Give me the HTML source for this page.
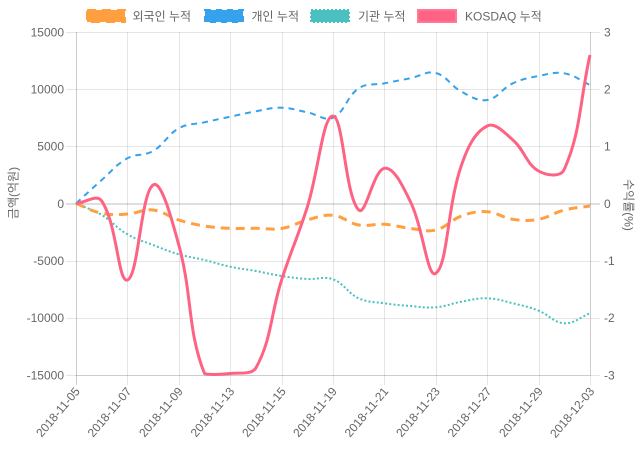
<!DOCTYPE html>
<html>
<head>
<meta charset="utf-8">
<style>
  html,body{margin:0;padding:0;background:#fff;}
  svg{display:block;}
  text{font-family:"Liberation Sans","Noto Sans CJK KR",sans-serif;font-size:12px;fill:#666;}
</style>
</head>
<body>
<svg id="c" width="640" height="450" viewBox="0 0 640 450" xmlns="http://www.w3.org/2000/svg">
  <defs>
    <clipPath id="clip"><rect x="74" y="30" width="518" height="347"/></clipPath>
  </defs>

  <!-- Legend -->
  <rect x="87" y="10" width="38" height="12" fill="rgb(255,159,64)" stroke="rgb(255,159,64)" stroke-width="2" stroke-dasharray="9,6"/>
  <text x="132.5" y="20.5">외국인 누적</text>
  <rect x="205" y="10" width="38" height="12" fill="rgb(54,162,235)" stroke="rgb(54,162,235)" stroke-width="2" stroke-dasharray="6,5"/>
  <text x="251.5" y="20.5">개인 누적</text>
  <rect x="311" y="10" width="38" height="12" fill="rgb(75,192,192)" stroke="rgb(75,192,192)" stroke-width="2" stroke-dasharray="2,2"/>
  <text x="358" y="20.5">기관 누적</text>
  <rect x="418" y="10" width="38" height="12" fill="rgb(255,99,132)" stroke="rgb(255,120,150)" stroke-width="2"/>
  <text x="465" y="20.5">KOSDAQ 누적</text>

  <!-- Horizontal gridlines -->
  <g stroke="rgba(0,0,0,0.1)" stroke-width="1">
    <line x1="66" y1="32.5" x2="590" y2="32.5"/>
    <line x1="66" y1="89.5" x2="590" y2="89.5"/>
    <line x1="66" y1="146.5" x2="590" y2="146.5"/>
    <line x1="66" y1="261.5" x2="590" y2="261.5"/>
    <line x1="66" y1="318.5" x2="590" y2="318.5"/>
    <line x1="66" y1="375.5" x2="590" y2="375.5"/>
  </g>
  <line x1="66" y1="204" x2="590" y2="204" stroke="rgba(0,0,0,0.25)" stroke-width="1"/>

  <!-- Vertical gridlines (incl. tick marks below) -->
  <g stroke="rgba(0,0,0,0.1)" stroke-width="1">
    <line x1="127.5" y1="32" x2="127.5" y2="385"/>
    <line x1="179.5" y1="32" x2="179.5" y2="385"/>
    <line x1="230.5" y1="32" x2="230.5" y2="385"/>
    <line x1="282.5" y1="32" x2="282.5" y2="385"/>
    <line x1="333.5" y1="32" x2="333.5" y2="385"/>
    <line x1="384.5" y1="32" x2="384.5" y2="385"/>
    <line x1="436.5" y1="32" x2="436.5" y2="385"/>
    <line x1="487.5" y1="32" x2="487.5" y2="385"/>
    <line x1="539.5" y1="32" x2="539.5" y2="385"/>
    <line x1="590.5" y1="32" x2="590.5" y2="385"/>
  </g>
  <line x1="76.5" y1="32" x2="76.5" y2="385" stroke="rgba(0,0,0,0.2)" stroke-width="1"/>
  <!-- axis borders -->
  <line x1="76" y1="375.5" x2="591" y2="375.5" stroke="rgba(0,0,0,0.1)" stroke-width="1"/>
  <line x1="590.5" y1="32" x2="590.5" y2="375" stroke="rgba(0,0,0,0.1)" stroke-width="1"/>

  <!-- Right axis tick marks -->
  <g stroke="rgba(0,0,0,0.1)" stroke-width="1">
    <line x1="590" y1="32.5" x2="600" y2="32.5"/>
    <line x1="590" y1="89.5" x2="600" y2="89.5"/>
    <line x1="590" y1="146.5" x2="600" y2="146.5"/>
    <line x1="590" y1="261.5" x2="600" y2="261.5"/>
    <line x1="590" y1="318.5" x2="600" y2="318.5"/>
    <line x1="590" y1="375.5" x2="600" y2="375.5"/>
  </g>
  <line x1="590" y1="204" x2="600" y2="204" stroke="rgba(0,0,0,0.25)" stroke-width="1"/>

  <!-- Left tick labels -->
  <g text-anchor="end">
    <text x="64" y="36.3">15000</text>
    <text x="64" y="93.5">10000</text>
    <text x="64" y="150.6">5000</text>
    <text x="64" y="207.8">0</text>
    <text x="64" y="265">-5000</text>
    <text x="64" y="322.1">-10000</text>
    <text x="64" y="379.3">-15000</text>
  </g>
  <!-- Right tick labels -->
  <g text-anchor="start">
    <text x="604" y="36.3">3</text>
    <text x="604" y="93.5">2</text>
    <text x="604" y="150.6">1</text>
    <text x="604" y="207.8">0</text>
    <text x="604" y="265">-1</text>
    <text x="604" y="322.1">-2</text>
    <text x="604" y="379.3">-3</text>
  </g>

  <!-- Axis titles -->
  <text transform="translate(17.3,193) rotate(-90)" text-anchor="middle">금액(억원)</text>
  <text transform="translate(624.4,205) rotate(90)" text-anchor="middle">수익률(%)</text>

  <!-- X tick labels -->
  <g text-anchor="end">
    <text transform="translate(77.5,389) rotate(-50)" y="4">2018-11-05</text>
    <text transform="translate(129,389) rotate(-50)" y="4">2018-11-07</text>
    <text transform="translate(180.5,389) rotate(-50)" y="4">2018-11-09</text>
    <text transform="translate(232,389) rotate(-50)" y="4">2018-11-13</text>
    <text transform="translate(283.5,389) rotate(-50)" y="4">2018-11-15</text>
    <text transform="translate(334.5,389) rotate(-50)" y="4">2018-11-19</text>
    <text transform="translate(386,389) rotate(-50)" y="4">2018-11-21</text>
    <text transform="translate(437.5,389) rotate(-50)" y="4">2018-11-23</text>
    <text transform="translate(489,389) rotate(-50)" y="4">2018-11-27</text>
    <text transform="translate(540.5,389) rotate(-50)" y="4">2018-11-29</text>
    <text transform="translate(592,389) rotate(-50)" y="4">2018-12-03</text>
  </g>

  <!-- Series -->
  <g clip-path="url(#clip)" fill="none">
    <path id="teal" stroke="rgb(75,192,192)" stroke-width="2" stroke-dasharray="2,2.2"
      d="M76,203.5 L101.7,215 L127.4,234.3 L153.1,245 L178.8,254.3 L204.5,260 L230.2,266.7 L255.9,271 L281.6,276 L307.3,279 L333,279.3 L358.7,298.3 L384.4,303.3 L410.1,306 L435.8,307.3 L461.5,301.7 L487.2,298.3 L512.9,303.3 L538.6,310.7 L564.3,323.3 L590,313.3"/>
    <path id="blue" stroke="rgb(54,162,235)" stroke-width="2" stroke-dasharray="6,5"
      d="M76,203.5 L101.7,180 L127.4,158.3 L153.1,151 L178.8,128.3 L204.5,122.3 L230.2,116.7 L255.9,111.3 L281.6,107.7 L307.3,112.3 L333,117.7 L358.7,88.3 L384.4,83.3 L410.1,78.3 L435.8,73 L461.5,91.7 L487.2,100 L512.9,83.3 L538.6,76 L564.3,73.3 L590,85"/>
    <path id="orange" stroke="rgb(255,159,64)" stroke-width="3" stroke-dasharray="9,6"
      d="M76,203.5 L101.7,213.3 L127.4,214 L153.1,210 L178.8,220 L204.5,226 L230.2,228.3 L255.9,228.3 L281.6,228.5 L307.3,220 L333,215.3 L358.7,225 L384.4,224.3 L410.1,228.3 L435.8,230 L461.5,216 L487.2,211.7 L512.9,219.3 L538.6,219.3 L564.3,210 L590,206"/>
    <path id="red" stroke="rgb(255,99,132)" stroke-width="3"
      d="M76,203.5 L101.7,201 L127.4,280 L153.1,185 L178.8,245 L204.5,373.5 L230.2,373.5 L255.9,368 L281.6,280 L307.3,207 L333,116 L358.7,210 L384.4,168.3 L410.1,201 L435.8,273.3 L461.5,165 L487.2,126 L512.9,140 L538.6,171 L564.3,169.3 L590,55"/>
  </g>
</svg>
<script>
(function(){
  var X=[];for(var i=0;i<21;i++)X.push(76+i*25.7);
  var data={
    teal:[203.5,215,234.3,245,254.3,260,266.7,271,276,279,279.3,298.3,303.3,306,307.3,301.7,298.3,303.3,310.7,323.3,313.3],
    blue:[203.5,180,158.3,151,128.3,122.3,116.7,111.3,107.7,112.3,117.7,88.3,83.3,78.3,73,91.7,100,83.3,76,73.3,85],
    orange:[203.5,213.3,214,210,220,226,228.3,228.3,228.5,220,215.3,225,224.3,228.3,230,216,211.7,219.3,219.3,210,206],
    red:[203.5,201,280,185,245,373.5,373.5,368,280,207,116,210,168.3,201,273.3,165,126,140,171,169.3,55]
  };
  var L=76,R=590,T=32,B=375,t=0.4;
  function cap(p){return [Math.min(R,Math.max(L,p[0])),Math.min(B,Math.max(T,p[1]))];}
  function path(ys){
    var pts=ys.map(function(y,i){return [X[i],y];});
    var n=pts.length,cps=[];
    for(var i=0;i<n;i++){
      var p=pts[i],pr=pts[i-1]||p,nx=pts[i+1]||p;
      var d01=Math.hypot(p[0]-pr[0],p[1]-pr[1]);
      var d12=Math.hypot(nx[0]-p[0],nx[1]-p[1]);
      var s01=d01/(d01+d12),s12=d12/(d01+d12);
      if(isNaN(s01))s01=0;if(isNaN(s12))s12=0;
      var fa=t*s01,fb=t*s12;
      var pc=cap([p[0]-fa*(nx[0]-pr[0]),p[1]-fa*(nx[1]-pr[1])]);
      var nc=cap([p[0]+fb*(nx[0]-pr[0]),p[1]+fb*(nx[1]-pr[1])]);
      cps.push([pc,nc]);
    }
    var d='M'+pts[0][0].toFixed(2)+','+pts[0][1].toFixed(2);
    for(var j=1;j<n;j++){
      var a=cps[j-1][1],b=cps[j][0];
      d+=' C'+a[0].toFixed(2)+','+a[1].toFixed(2)+' '+b[0].toFixed(2)+','+b[1].toFixed(2)+' '+pts[j][0].toFixed(2)+','+pts[j][1].toFixed(2);
    }
    return d;
  }
  for(var k in data){
    var el=document.getElementById(k);
    if(el) el.setAttribute('d',path(data[k]));
  }
})();
</script>
</body>
</html>
